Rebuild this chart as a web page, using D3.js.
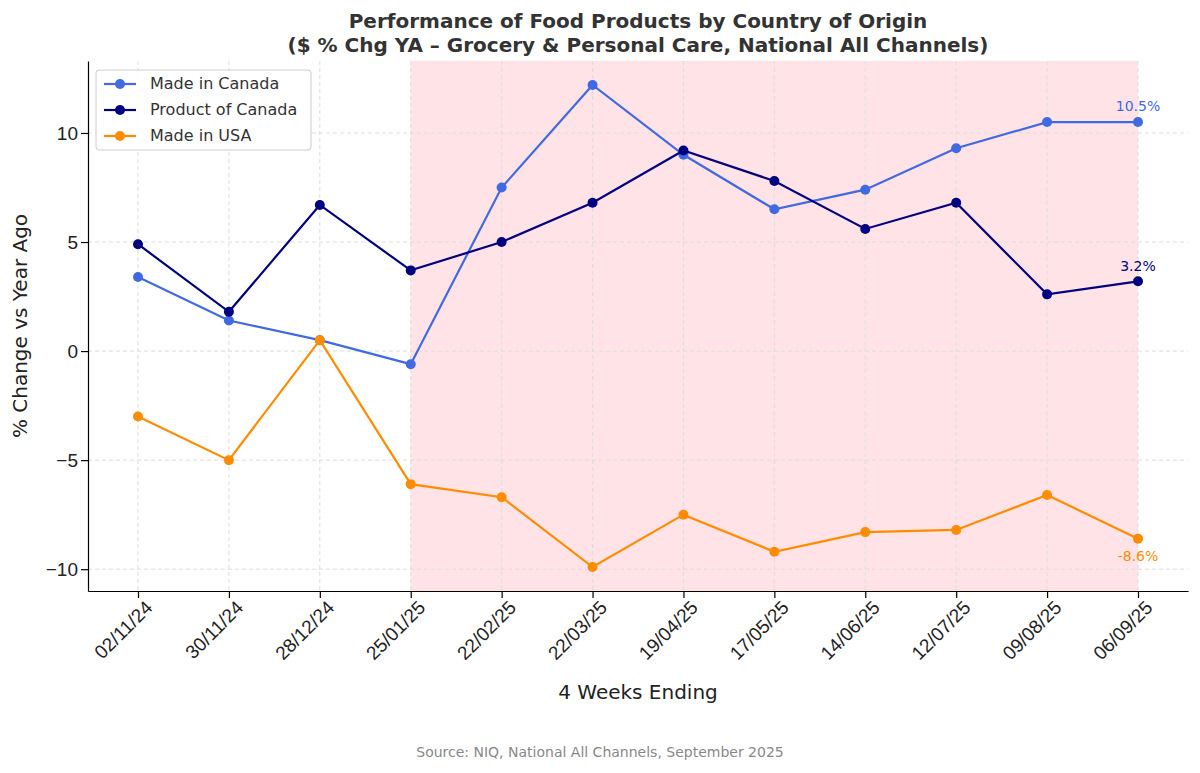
<!DOCTYPE html>
<html lang="en">
<head>
<meta charset="utf-8">
<title>Performance of Food Products by Country of Origin</title>
<script src="https://d3js.org/d3.v7.min.js"></script>
<style>
  body { margin: 0; background: #fff; font-family: "DejaVu Sans", sans-serif; }
  .grid line { stroke: #ddd; stroke-dasharray: 4,3; }
  .axis text { font-size: 19px; fill: #222; }
</style>
</head>
<body>
<div id="chart"></div>
<script>
var dates = ["02/11/24","30/11/24","28/12/24","25/01/25","22/02/25","22/03/25","19/04/25","17/05/25","14/06/25","12/07/25","09/08/25","06/09/25"];
var madeInCanada = [3.4, 1.4, 0.5, -0.6, 7.5, 12.2, 9.0, 6.5, 7.4, 9.3, 10.5, 10.5];
var productOfCanada = [4.9, 1.8, 6.7, 3.7, 5.0, 6.8, 9.2, 7.8, 5.6, 6.8, 2.6, 3.2];
var madeInUSA = [-3.0, -5.0, 0.5, -6.1, -6.7, -9.9, -7.5, -9.2, -8.3, -8.2, -6.6, -8.6];
var yTicks = [-10, -5, 0, 5, 10];
var shadeStart = 3;

var series = [
  {name: "Made in Canada", values: madeInCanada, color: "#4169e1", dy: -11},
  {name: "Product of Canada", values: productOfCanada, color: "#000080", dy: -10},
  {name: "Made in USA", values: madeInUSA, color: "#ff8c00", dy: 22}
];

var W = 1200, H = 773;
var margin = {top: 61, right: 12, bottom: 182, left: 88};
var width = W - margin.left - margin.right, height = H - margin.top - margin.bottom;

var svg = d3.select("#chart").append("svg").attr("width", W).attr("height", H);
var g = svg.append("g").attr("transform", "translate(" + margin.left + "," + margin.top + ")");

var x = d3.scaleLinear().domain([-0.55, 11.55]).range([0, width]);
var y = d3.scaleLinear().domain([-11, 13.3]).range([height, 0]);

// shaded period
g.append("rect")
  .attr("x", x(shadeStart)).attr("y", 0)
  .attr("width", x(dates.length - 1) - x(shadeStart)).attr("height", height)
  .attr("fill", "#ffe3e6");

// grid
var grid = g.append("g").attr("class", "grid");
grid.selectAll(".gx").data(dates).enter().append("line")
  .attr("x1", function(d, i) { return x(i); }).attr("x2", function(d, i) { return x(i); })
  .attr("y1", 0).attr("y2", height);
grid.selectAll(".gy").data(yTicks).enter().append("line")
  .attr("x1", 0).attr("x2", width)
  .attr("y1", function(d) { return y(d); }).attr("y2", function(d) { return y(d); });

// axes
var xAxis = d3.axisBottom(x).tickValues(d3.range(dates.length)).tickFormat(function(i) { return dates[i]; }).tickSize(7).tickSizeOuter(0);
var xg = g.append("g").attr("class", "axis").attr("transform", "translate(0," + height + ")").call(xAxis);
xg.selectAll("text")
  .attr("text-anchor", "end").attr("dx", "-0.1em").attr("dy", "0.7em")
  .attr("transform", "rotate(-45)");

var yAxis = d3.axisLeft(y).tickValues(yTicks).tickFormat(function(d) { return d < 0 ? "\u2212" + Math.abs(d) : d; }).tickSize(7).tickSizeOuter(0);
g.append("g").attr("class", "axis").call(yAxis);
g.selectAll(".axis path, .axis line").attr("stroke", "#000").attr("stroke-width", 1.2);

// lines
var line = d3.line().x(function(d, i) { return x(i); }).y(function(d) { return y(d); });
series.forEach(function(s) {
  g.append("path").datum(s.values).attr("d", line)
    .attr("fill", "none").attr("stroke", s.color).attr("stroke-width", 2.2);
  g.selectAll(null).data(s.values).enter().append("circle")
    .attr("cx", function(d, i) { return x(i); }).attr("cy", function(d) { return y(d); })
    .attr("r", 5).attr("fill", s.color);
  var last = s.values.length - 1;
  g.append("text").attr("x", x(last)).attr("y", y(s.values[last]) + s.dy)
    .attr("text-anchor", "middle").attr("font-size", 14).attr("fill", s.color)
    .text(s.values[last].toFixed(1) + "%");
});

// legend
var lg = g.append("g").attr("transform", "translate(8,9)");
lg.append("rect").attr("width", 215).attr("height", 80).attr("rx", 3)
  .attr("fill", "#fff").attr("fill-opacity", 0.85).attr("stroke", "#ccc");
series.forEach(function(s, i) {
  var ly = 14 + i * 26;
  lg.append("line").attr("x1", 8).attr("x2", 40).attr("y1", ly).attr("y2", ly)
    .attr("stroke", s.color).attr("stroke-width", 2.2);
  lg.append("circle").attr("cx", 24).attr("cy", ly).attr("r", 5).attr("fill", s.color);
  lg.append("text").attr("x", 54).attr("y", ly + 5).attr("font-size", 16).attr("fill", "#333").text(s.name);
});

// titles
svg.append("text").attr("x", 638).attr("y", 28).attr("text-anchor", "middle")
  .attr("font-size", 20).attr("font-weight", "bold").attr("fill", "#333")
  .text("Performance of Food Products by Country of Origin");
svg.append("text").attr("x", 638).attr("y", 52).attr("text-anchor", "middle")
  .attr("font-size", 20).attr("font-weight", "bold").attr("fill", "#333")
  .text("($ % Chg YA \u2013 Grocery & Personal Care, National All Channels)");
svg.append("text").attr("x", margin.left + width / 2).attr("y", 699).attr("text-anchor", "middle")
  .attr("font-size", 20).attr("fill", "#222").text("4 Weeks Ending");
svg.append("text").attr("transform", "translate(27," + (margin.top + height / 2) + ") rotate(-90)")
  .attr("text-anchor", "middle").attr("font-size", 20).attr("fill", "#222").text("% Change vs Year Ago");
svg.append("text").attr("x", 600).attr("y", 757).attr("text-anchor", "middle")
  .attr("font-size", 14).attr("fill", "#888").text("Source: NIQ, National All Channels, September 2025");
</script>
</body>
</html>
